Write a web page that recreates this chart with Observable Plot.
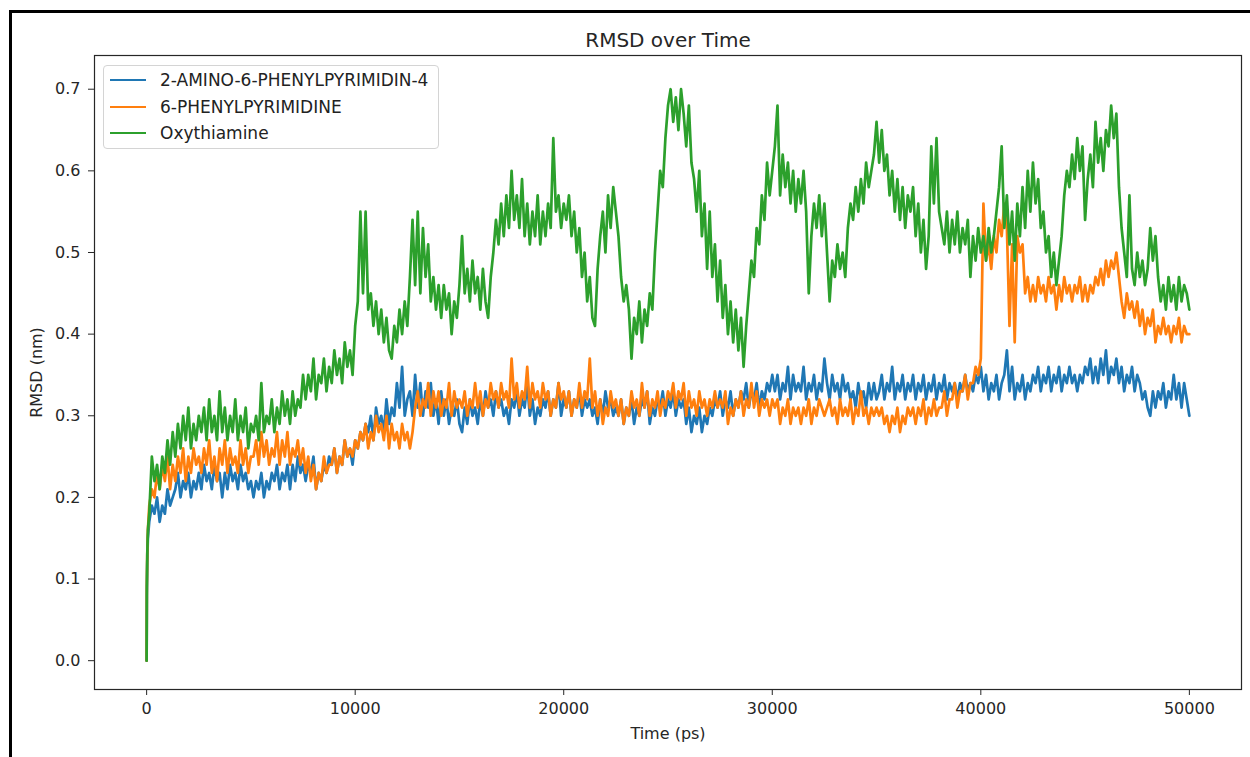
<!DOCTYPE html>
<html>
<head>
<meta charset="utf-8">
<script src="https://cdn.jsdelivr.net/npm/d3@7"></script>
<script src="https://cdn.jsdelivr.net/npm/@observablehq/plot@0.6"></script>
<style>
  html, body { margin: 0; padding: 0; background: #fff; }
  #wrap { position: relative; width: 1250px; height: 757px; overflow: hidden; font-family: "DejaVu Sans", sans-serif; }
  #outer { position: absolute; left: 9px; top: 10px; width: 1300px; height: 800px; border-top: 3px solid #000; border-left: 3px solid #000; pointer-events: none; }
  #legend { position: absolute; left: 103px; top: 65px; width: 334px; height: 82px; border: 1px solid #d4d4d4; border-radius: 4px; background: rgba(255,255,255,0.85); color: #222; font-size: 17px; }
  .row { position: absolute; left: 0; height: 20px; display: flex; align-items: center; white-space: nowrap; }
  .sw { width: 36px; height: 2.5px; margin-left: 6px; margin-right: 14px; }
</style>
</head>
<body>
<div id="wrap"><div id="chart"></div><div id="legend"></div><div id="outer"></div></div>
<script>
// Series names and colours
const seriesNames = ["2-AMINO-6-PHENYLPYRIMIDIN-4", "6-PHENYLPYRIMIDINE", "Oxythiamine"];
const seriesColors = ["#1f77b4", "#ff7f0e", "#2ca02c"];

// Time samples (ps)
const times = [0, 10, 30, 60, ...d3.range(125, 50001, 125)];

// RMSD (nm) (one line = 2500 ps)
const amino = [0, 0.08, 0.12, 0.15,
 0.17, 0.19, 0.18, 0.20, 0.17, 0.19, 0.18, 0.21, 0.19, 0.20, 0.21, 0.23, 0.20, 0.22, 0.21, 0.23, 0.20, 0.22, 0.21, 0.23,
 0.21, 0.24, 0.22, 0.23, 0.21, 0.24, 0.22, 0.23, 0.20, 0.23, 0.21, 0.24, 0.22, 0.23, 0.21, 0.24, 0.22, 0.23, 0.21, 0.22,
 0.20, 0.22, 0.21, 0.23, 0.20, 0.22, 0.21, 0.23, 0.22, 0.24, 0.21, 0.23, 0.22, 0.24, 0.21, 0.24, 0.22, 0.25, 0.23, 0.24,
 0.22, 0.24, 0.23, 0.25, 0.21, 0.23, 0.22, 0.24, 0.23, 0.25, 0.24, 0.26, 0.23, 0.25, 0.24, 0.27, 0.25, 0.26, 0.24, 0.27,
 0.26, 0.28, 0.27, 0.29, 0.28, 0.30, 0.27, 0.31, 0.29, 0.30, 0.28, 0.32, 0.29, 0.31, 0.30, 0.34, 0.31, 0.36, 0.30, 0.32,
 0.33, 0.30, 0.35, 0.31, 0.34, 0.30, 0.33, 0.31, 0.34, 0.30, 0.32, 0.29, 0.33, 0.30, 0.32, 0.29, 0.31, 0.30, 0.32, 0.29,
 0.28, 0.31, 0.29, 0.32, 0.30, 0.31, 0.29, 0.32, 0.30, 0.33, 0.31, 0.32, 0.30, 0.33, 0.31, 0.32, 0.30, 0.31, 0.29, 0.32,
 0.31, 0.33, 0.30, 0.32, 0.31, 0.34, 0.30, 0.32, 0.29, 0.31, 0.30, 0.32, 0.31, 0.33, 0.30, 0.32, 0.31, 0.34, 0.30, 0.32,
 0.31, 0.33, 0.30, 0.32, 0.31, 0.33, 0.30, 0.32, 0.31, 0.32, 0.30, 0.31, 0.29, 0.32, 0.30, 0.33, 0.31, 0.32, 0.30, 0.31,
 0.30, 0.32, 0.29, 0.31, 0.30, 0.32, 0.29, 0.31, 0.30, 0.32, 0.31, 0.33, 0.29, 0.31, 0.30, 0.32, 0.31, 0.33, 0.30, 0.32,
 0.31, 0.33, 0.30, 0.32, 0.31, 0.32, 0.29, 0.31, 0.28, 0.30, 0.29, 0.31, 0.28, 0.30, 0.29, 0.31, 0.30, 0.32, 0.31, 0.33,
 0.30, 0.32, 0.31, 0.33, 0.30, 0.32, 0.31, 0.33, 0.32, 0.34, 0.31, 0.33, 0.32, 0.34, 0.31, 0.33, 0.32, 0.34, 0.33, 0.35,
 0.33, 0.35, 0.32, 0.34, 0.33, 0.36, 0.32, 0.35, 0.33, 0.34, 0.33, 0.36, 0.32, 0.34, 0.33, 0.35, 0.32, 0.34, 0.33, 0.37,
 0.34, 0.32, 0.35, 0.33, 0.34, 0.32, 0.35, 0.33, 0.34, 0.32, 0.33, 0.31, 0.34, 0.32, 0.33, 0.31, 0.34, 0.32, 0.34, 0.32,
 0.33, 0.35, 0.32, 0.34, 0.33, 0.36, 0.32, 0.34, 0.33, 0.35, 0.32, 0.34, 0.33, 0.35, 0.32, 0.34, 0.33, 0.35, 0.32, 0.34,
 0.33, 0.35, 0.32, 0.34, 0.33, 0.35, 0.32, 0.34, 0.33, 0.34, 0.32, 0.34, 0.33, 0.35, 0.33, 0.34, 0.33, 0.35, 0.34, 0.36,
 0.33, 0.35, 0.32, 0.34, 0.33, 0.35, 0.32, 0.34, 0.35, 0.38, 0.33, 0.36, 0.32, 0.34, 0.33, 0.35, 0.32, 0.34, 0.33, 0.35,
 0.34, 0.36, 0.33, 0.35, 0.34, 0.36, 0.33, 0.35, 0.34, 0.36, 0.33, 0.35, 0.34, 0.36, 0.34, 0.35, 0.33, 0.35, 0.34, 0.36,
 0.35, 0.37, 0.34, 0.36, 0.34, 0.37, 0.35, 0.38, 0.34, 0.36, 0.35, 0.37, 0.34, 0.36, 0.33, 0.35, 0.34, 0.36, 0.33, 0.35,
 0.34, 0.32, 0.33, 0.31, 0.30, 0.33, 0.31, 0.33, 0.32, 0.34, 0.31, 0.33, 0.32, 0.35, 0.32, 0.34, 0.31, 0.34, 0.32, 0.30];

const phenyl = [0, 0.09, 0.13, 0.16,
 0.19, 0.21, 0.20, 0.23, 0.21, 0.24, 0.22, 0.25, 0.21, 0.24, 0.22, 0.25, 0.23, 0.26, 0.22, 0.25, 0.23, 0.26, 0.24, 0.25,
 0.23, 0.26, 0.24, 0.27, 0.23, 0.25, 0.22, 0.26, 0.24, 0.27, 0.23, 0.26, 0.24, 0.25, 0.23, 0.27, 0.24, 0.26, 0.23, 0.25,
 0.25, 0.27, 0.24, 0.28, 0.25, 0.27, 0.24, 0.26, 0.25, 0.28, 0.24, 0.27, 0.25, 0.28, 0.24, 0.26, 0.25, 0.27, 0.24, 0.26,
 0.23, 0.25, 0.22, 0.24, 0.21, 0.23, 0.22, 0.25, 0.23, 0.24, 0.24, 0.26, 0.23, 0.25, 0.24, 0.27, 0.25, 0.26, 0.25, 0.27,
 0.26, 0.28, 0.27, 0.29, 0.26, 0.28, 0.27, 0.30, 0.28, 0.29, 0.27, 0.30, 0.26, 0.29, 0.27, 0.28, 0.26, 0.29, 0.27, 0.28,
 0.26, 0.28, 0.31, 0.33, 0.30, 0.32, 0.31, 0.34, 0.30, 0.33, 0.31, 0.33, 0.30, 0.32, 0.31, 0.34, 0.30, 0.33, 0.31, 0.32,
 0.31, 0.33, 0.30, 0.32, 0.31, 0.34, 0.31, 0.33, 0.30, 0.32, 0.31, 0.34, 0.32, 0.33, 0.31, 0.34, 0.32, 0.33, 0.31, 0.37,
 0.32, 0.34, 0.31, 0.33, 0.32, 0.36, 0.31, 0.34, 0.32, 0.33, 0.31, 0.34, 0.32, 0.33, 0.30, 0.32, 0.31, 0.34, 0.32, 0.33,
 0.31, 0.33, 0.30, 0.32, 0.31, 0.34, 0.31, 0.33, 0.32, 0.37, 0.31, 0.33, 0.30, 0.32, 0.29, 0.31, 0.30, 0.33, 0.31, 0.32,
 0.30, 0.32, 0.29, 0.31, 0.30, 0.33, 0.31, 0.32, 0.30, 0.34, 0.31, 0.33, 0.30, 0.32, 0.31, 0.33, 0.30, 0.32, 0.31, 0.33,
 0.32, 0.34, 0.31, 0.33, 0.32, 0.34, 0.30, 0.33, 0.31, 0.32, 0.30, 0.33, 0.31, 0.32, 0.30, 0.32, 0.31, 0.33, 0.31, 0.32,
 0.31, 0.33, 0.29, 0.31, 0.30, 0.32, 0.31, 0.33, 0.30, 0.32, 0.31, 0.34, 0.31, 0.33, 0.30, 0.32, 0.31, 0.32, 0.30, 0.32,
 0.31, 0.32, 0.29, 0.31, 0.30, 0.32, 0.29, 0.31, 0.30, 0.31, 0.29, 0.31, 0.30, 0.32, 0.29, 0.31, 0.30, 0.32, 0.31, 0.30,
 0.31, 0.32, 0.30, 0.31, 0.29, 0.32, 0.30, 0.31, 0.30, 0.32, 0.29, 0.31, 0.30, 0.33, 0.30, 0.31, 0.29, 0.31, 0.30, 0.31,
 0.30, 0.31, 0.29, 0.30, 0.28, 0.30, 0.29, 0.31, 0.28, 0.30, 0.29, 0.31, 0.30, 0.31, 0.29, 0.31, 0.30, 0.32, 0.29, 0.31,
 0.30, 0.32, 0.30, 0.31, 0.31, 0.33, 0.30, 0.32, 0.32, 0.34, 0.31, 0.33, 0.33, 0.35, 0.32, 0.34, 0.34, 0.36, 0.35, 0.37,
 0.56, 0.49, 0.51, 0.48, 0.52, 0.50, 0.54, 0.52, 0.56, 0.53, 0.41, 0.51, 0.39, 0.52, 0.50, 0.51, 0.45, 0.47, 0.44, 0.46,
 0.44, 0.47, 0.45, 0.46, 0.44, 0.47, 0.45, 0.46, 0.43, 0.46, 0.44, 0.47, 0.45, 0.46, 0.44, 0.46, 0.45, 0.47, 0.44, 0.46,
 0.44, 0.46, 0.45, 0.47, 0.46, 0.48, 0.46, 0.49, 0.47, 0.49, 0.48, 0.50, 0.47, 0.44, 0.42, 0.45, 0.43, 0.44, 0.42, 0.44,
 0.41, 0.43, 0.40, 0.42, 0.41, 0.43, 0.39, 0.41, 0.40, 0.42, 0.40, 0.41, 0.39, 0.41, 0.40, 0.42, 0.39, 0.41, 0.40, 0.40];

const oxythiamine = [0, 0.09, 0.13, 0.16,
 0.18, 0.25, 0.22, 0.24, 0.21, 0.25, 0.23, 0.27, 0.24, 0.28, 0.25, 0.29, 0.26, 0.30, 0.27, 0.31, 0.26, 0.29, 0.27, 0.30,
 0.28, 0.31, 0.27, 0.32, 0.28, 0.30, 0.27, 0.33, 0.28, 0.31, 0.27, 0.30, 0.28, 0.32, 0.27, 0.30, 0.28, 0.31, 0.26, 0.29,
 0.28, 0.30, 0.27, 0.34, 0.28, 0.30, 0.29, 0.32, 0.28, 0.31, 0.29, 0.33, 0.30, 0.32, 0.29, 0.33, 0.30, 0.32, 0.31, 0.35,
 0.32, 0.35, 0.33, 0.37, 0.32, 0.35, 0.34, 0.37, 0.33, 0.36, 0.34, 0.38, 0.35, 0.37, 0.34, 0.39, 0.36, 0.38, 0.35, 0.41,
 0.44, 0.55, 0.45, 0.55, 0.43, 0.45, 0.41, 0.44, 0.40, 0.43, 0.39, 0.42, 0.38, 0.37, 0.41, 0.39, 0.43, 0.40, 0.44, 0.41,
 0.47, 0.54, 0.46, 0.55, 0.45, 0.53, 0.47, 0.51, 0.44, 0.47, 0.43, 0.46, 0.42, 0.46, 0.43, 0.45, 0.40, 0.44, 0.42, 0.46,
 0.52, 0.45, 0.48, 0.44, 0.49, 0.45, 0.47, 0.43, 0.48, 0.44, 0.42, 0.47, 0.50, 0.54, 0.51, 0.56, 0.52, 0.57, 0.53, 0.60,
 0.54, 0.57, 0.53, 0.59, 0.52, 0.56, 0.51, 0.55, 0.52, 0.57, 0.51, 0.55, 0.52, 0.56, 0.53, 0.64, 0.55, 0.57, 0.53, 0.56,
 0.54, 0.57, 0.52, 0.55, 0.50, 0.53, 0.47, 0.50, 0.44, 0.47, 0.42, 0.41, 0.48, 0.52, 0.55, 0.50, 0.57, 0.53, 0.58, 0.55,
 0.52, 0.47, 0.44, 0.46, 0.43, 0.37, 0.42, 0.40, 0.44, 0.39, 0.43, 0.41, 0.45, 0.43, 0.50, 0.55, 0.60, 0.58, 0.64, 0.68,
 0.70, 0.66, 0.69, 0.65, 0.70, 0.67, 0.63, 0.68, 0.61, 0.59, 0.55, 0.60, 0.52, 0.56, 0.48, 0.55, 0.47, 0.51, 0.44, 0.49,
 0.42, 0.46, 0.40, 0.44, 0.39, 0.43, 0.38, 0.42, 0.36, 0.41, 0.45, 0.49, 0.47, 0.53, 0.51, 0.57, 0.54, 0.61, 0.57, 0.60,
 0.63, 0.68, 0.57, 0.62, 0.58, 0.61, 0.56, 0.60, 0.55, 0.59, 0.56, 0.60, 0.55, 0.45, 0.52, 0.56, 0.53, 0.57, 0.52, 0.56,
 0.50, 0.44, 0.49, 0.47, 0.51, 0.48, 0.50, 0.47, 0.53, 0.56, 0.54, 0.58, 0.55, 0.59, 0.56, 0.61, 0.58, 0.60, 0.62, 0.66,
 0.61, 0.65, 0.60, 0.62, 0.57, 0.60, 0.55, 0.59, 0.54, 0.58, 0.53, 0.57, 0.55, 0.58, 0.52, 0.56, 0.50, 0.54, 0.48, 0.52,
 0.63, 0.56, 0.64, 0.55, 0.53, 0.51, 0.55, 0.50, 0.54, 0.51, 0.55, 0.50, 0.53, 0.51, 0.54, 0.47, 0.52, 0.49, 0.53, 0.50,
 0.52, 0.49, 0.53, 0.50, 0.52, 0.55, 0.58, 0.63, 0.53, 0.57, 0.51, 0.55, 0.49, 0.56, 0.52, 0.58, 0.53, 0.60, 0.55, 0.61,
 0.56, 0.59, 0.53, 0.55, 0.50, 0.52, 0.47, 0.50, 0.46, 0.49, 0.52, 0.57, 0.60, 0.58, 0.62, 0.59, 0.64, 0.60, 0.63, 0.54,
 0.59, 0.62, 0.58, 0.66, 0.61, 0.64, 0.60, 0.65, 0.63, 0.68, 0.64, 0.67, 0.58, 0.53, 0.50, 0.47, 0.57, 0.48, 0.46, 0.50,
 0.47, 0.49, 0.46, 0.48, 0.53, 0.49, 0.52, 0.47, 0.44, 0.46, 0.43, 0.47, 0.44, 0.46, 0.43, 0.47, 0.44, 0.46, 0.45, 0.43];

const xTicks = [0, 10000, 20000, 30000, 40000, 50000];
const yTicks = [0.0, 0.1, 0.2, 0.3, 0.4, 0.5, 0.6, 0.7];
const titleText = "RMSD over Time";

const allSeries = [amino, phenyl, oxythiamine];
const lineMarks = allSeries.map((vals, s) =>
  Plot.line(times.map((t, i) => ({t, v: vals[i]})), {
    x: "t", y: "v", stroke: seriesColors[s], strokeWidth: 2.7, strokeLinejoin: "round"
  })
);

const chart = Plot.plot({
  width: 1250,
  height: 757,
  marginLeft: 94,
  marginRight: 9,
  marginTop: 55,
  marginBottom: 68,
  style: { fontFamily: "DejaVu Sans, sans-serif", fontSize: "16px", color: "#262626", background: "transparent" },
  x: { domain: [-2500, 52500] },
  y: { domain: [-0.0353, 0.7413] },
  marks: [
    ...lineMarks,
    Plot.frame({ stroke: "#262626", strokeWidth: 1.2 }),
    Plot.axisX({ ticks: xTicks, tickFormat: d => String(d), tickSize: 6, tickPadding: 7, label: "Time (ps)", labelAnchor: "center", labelArrow: "none", labelOffset: 49, fontSize: 16 }),
    Plot.axisY({ ticks: yTicks, tickFormat: d3.format(".1f"), tickSize: 6, tickPadding: 8, label: "RMSD (nm)", labelAnchor: "center", labelArrow: "none", labelOffset: 64, fontSize: 16 }),
    Plot.text([titleText], { frameAnchor: "top", text: d => d, dy: -9, lineAnchor: "bottom", fontSize: 20, fill: "#262626" })
  ]
});
document.getElementById("chart").appendChild(chart);

// Legend
const legend = document.getElementById("legend");
const rowTops = [4, 31, 57];
seriesNames.forEach((name, i) => {
  const row = document.createElement("div");
  row.className = "row";
  row.style.top = rowTops[i] + "px";
  const sw = document.createElement("span");
  sw.className = "sw";
  sw.style.background = seriesColors[i];
  const tx = document.createElement("span");
  tx.textContent = name;
  row.appendChild(sw);
  row.appendChild(tx);
  legend.appendChild(row);
});
</script>
</body>
</html>
